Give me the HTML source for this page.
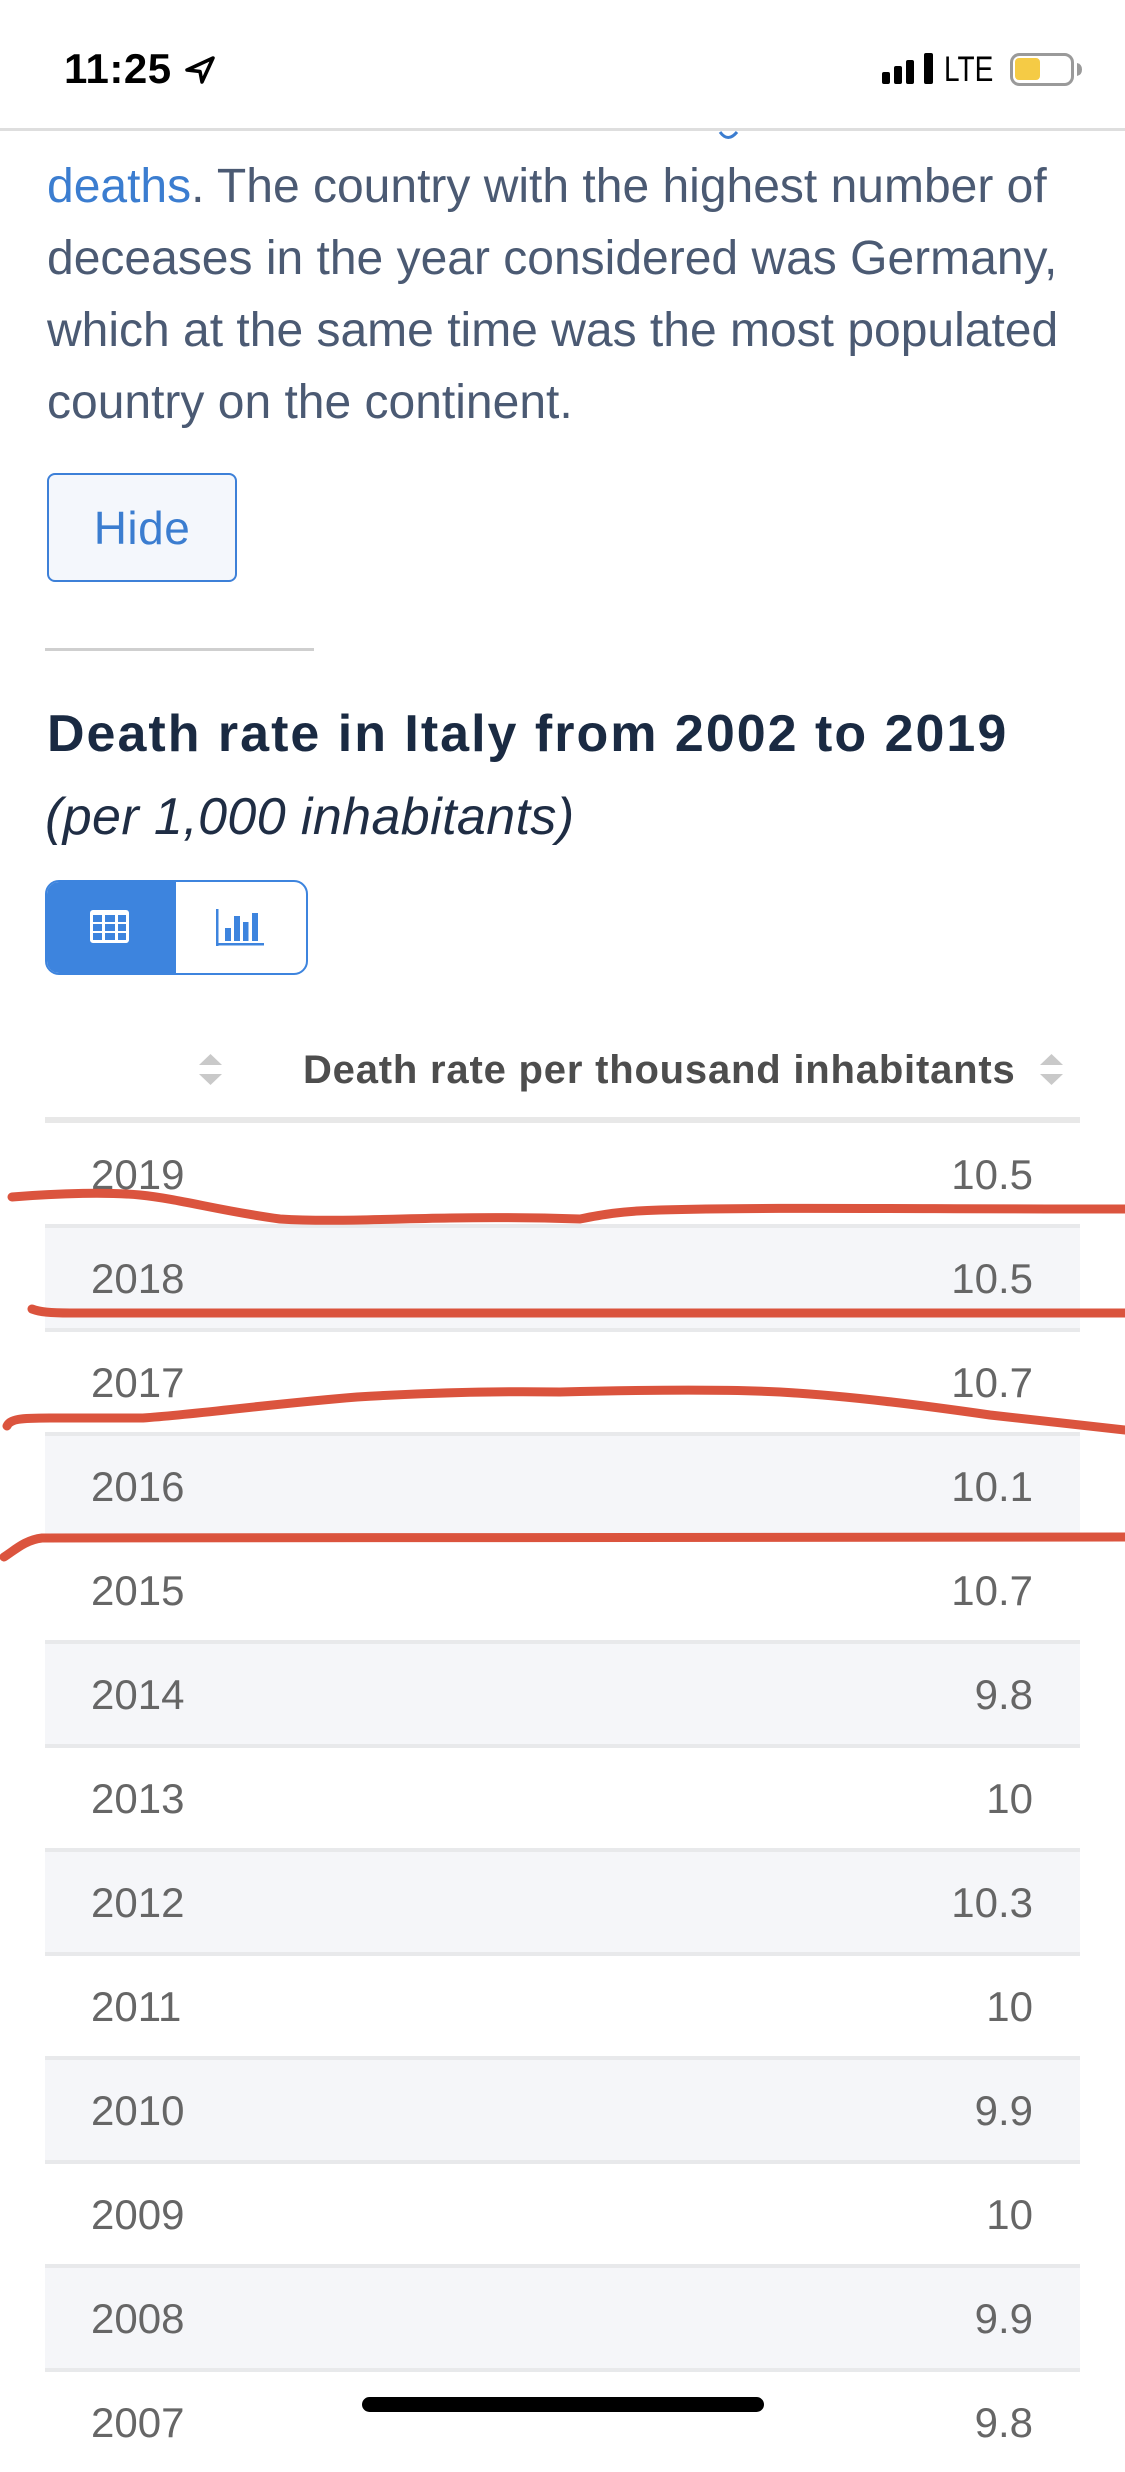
<!DOCTYPE html>
<html>
<head>
<meta charset="utf-8">
<style>
html,body{margin:0;padding:0;}
body{width:1125px;height:2436px;position:relative;overflow:hidden;background:#ffffff;font-family:"Liberation Sans",Arial,sans-serif;}
.a{position:absolute;white-space:nowrap;line-height:1;}
.p{font-size:48px;color:#4b5a73;left:47px;}
.p .lk{color:#3b7dd0;}
.row{position:absolute;left:45px;width:1035px;height:100px;}
.g{background:#f5f6f9;}
.bd{position:absolute;left:45px;width:1035px;height:4px;background:#e8e9eb;}
.yr{position:absolute;left:91px;font-size:42px;color:#666666;line-height:1;}
.vl{position:absolute;right:92px;font-size:42px;color:#666666;line-height:1;text-align:right;}
</style>
</head>
<body>

<!-- status bar -->
<div class="a" style="left:64px;top:48px;font-size:42px;font-weight:bold;color:#000;letter-spacing:0.5px;">11:25</div>
<svg style="position:absolute;left:0;top:0" width="1125" height="140">
  <polygon points="213,58 187,70 200,71.5 202,82" fill="none" stroke="#000" stroke-width="3.5" stroke-linejoin="round"/>
  <rect x="882" y="72" width="8" height="12" rx="2" fill="#000"/>
  <rect x="894" y="66" width="8" height="18" rx="2" fill="#000"/>
  <rect x="906" y="60" width="8" height="24" rx="2" fill="#000"/>
  <rect x="924" y="53" width="9" height="31" rx="2" fill="#000"/>
  <rect x="1011.5" y="54.5" width="61" height="30" rx="8" fill="none" stroke="#9a9a9a" stroke-width="3"/>
  <rect x="1015" y="58" width="25" height="22" rx="4" fill="#f5cb45"/>
  <path d="M1077,63 Q1082,64 1082,69.5 Q1082,75 1077,76 Z" fill="#9a9a9a"/>
  <rect x="0" y="128" width="1125" height="3" fill="#dedede"/>
  <path d="M720,132 Q728,143 737,132" fill="none" stroke="#3b7dd0" stroke-width="3"/>
</svg>
<div class="a" style="left:944px;top:52px;font-size:35px;color:#000;transform:scaleX(0.8);transform-origin:0 0;">LTE</div>

<!-- paragraph -->
<div class="a p" style="top:163px;"><span class="lk">deaths</span>. The country with the highest number of</div>
<div class="a p" style="top:235px;">deceases in the year considered was Germany,</div>
<div class="a p" style="top:307px;">which at the same time was the most populated</div>
<div class="a p" style="top:379px;">country on the continent.</div>

<!-- Hide button -->
<div style="position:absolute;left:47px;top:473px;width:186px;height:105px;border:2px solid #3d80d8;border-radius:8px;background:#f4f7fc;display:flex;align-items:center;justify-content:center;">
  <span style="font-size:46px;color:#3b7dd0;line-height:1;letter-spacing:0.5px;">Hide</span>
</div>

<!-- divider -->
<div style="position:absolute;left:45px;top:648px;width:269px;height:3px;background:#cfcfcf;"></div>

<!-- title -->
<div class="a" style="left:47px;top:708px;font-size:52px;font-weight:bold;color:#1a2a42;letter-spacing:2px;">Death rate in Italy from 2002 to 2019</div>
<div class="a" style="left:45px;top:791px;font-size:52px;font-style:italic;color:#1f2d44;letter-spacing:0.4px;">(per 1,000 inhabitants)</div>

<!-- toggle buttons -->
<div style="position:absolute;left:45px;top:880px;width:259px;height:91px;border:2px solid #3d84de;border-radius:14px;overflow:hidden;background:#fff;">
  <div style="position:absolute;left:0;top:0;width:129px;height:91px;background:#3d84de;"></div>
</div>
<svg style="position:absolute;left:0;top:0" width="400" height="1000">
  <rect x="90" y="910" width="39" height="33" rx="3" fill="#ffffff"/>
  <rect x="93" y="915" width="9" height="7" fill="#3d84de"/>
  <rect x="105" y="915" width="10" height="7" fill="#3d84de"/>
  <rect x="118" y="915" width="8" height="7" fill="#3d84de"/>
  <rect x="93" y="924" width="9" height="7" fill="#3d84de"/>
  <rect x="105" y="924" width="10" height="7" fill="#3d84de"/>
  <rect x="118" y="924" width="8" height="7" fill="#3d84de"/>
  <rect x="93" y="933" width="9" height="7" fill="#3d84de"/>
  <rect x="105" y="933" width="10" height="7" fill="#3d84de"/>
  <rect x="118" y="933" width="8" height="7" fill="#3d84de"/>
  <rect x="216" y="909" width="2.5" height="37" fill="#3d84de"/>
  <rect x="216" y="943" width="48" height="2.5" fill="#3d84de"/>
  <rect x="225" y="928" width="6" height="13" fill="#3d84de"/>
  <rect x="234" y="916" width="6" height="25" fill="#3d84de"/>
  <rect x="243" y="922" width="5.5" height="19" fill="#3d84de"/>
  <rect x="252" y="913" width="6" height="28" fill="#3d84de"/>
</svg>

<!-- table header -->
<svg style="position:absolute;left:0;top:1040px" width="1125" height="60">
  <polygon points="210.5,14 222,25 199,25" fill="#c9c9c9"/>
  <polygon points="199,34 222,34 210.5,45" fill="#c9c9c9"/>
  <polygon points="1051.5,14 1063,25 1040,25" fill="#c9c9c9"/>
  <polygon points="1040,34 1063,34 1051.5,45" fill="#c9c9c9"/>
</svg>
<div class="a" style="left:303px;top:1050px;font-size:40px;font-weight:bold;color:#4d4d4d;letter-spacing:0.8px;">Death rate per thousand inhabitants</div>
<div style="position:absolute;left:45px;top:1117px;width:1035px;height:6px;background:#e8e8e8;"></div>

<!-- rows -->
<div class="row" style="top:1123px;height:101px;"></div>
<div class="yr" style="top:1154px;">2019</div><div class="vl" style="top:1154px;">10.5</div>

<div class="bd" style="top:1224px;"></div>
<div class="row g" style="top:1228px;"></div>
<div class="yr" style="top:1258px;">2018</div><div class="vl" style="top:1258px;">10.5</div>

<div class="bd" style="top:1328px;"></div>
<div class="row" style="top:1332px;"></div>
<div class="yr" style="top:1362px;">2017</div><div class="vl" style="top:1362px;">10.7</div>

<div class="bd" style="top:1432px;"></div>
<div class="row g" style="top:1436px;"></div>
<div class="yr" style="top:1466px;">2016</div><div class="vl" style="top:1466px;">10.1</div>

<div class="bd" style="top:1536px;"></div>
<div class="row" style="top:1540px;"></div>
<div class="yr" style="top:1570px;">2015</div><div class="vl" style="top:1570px;">10.7</div>

<div class="bd" style="top:1640px;"></div>
<div class="row g" style="top:1644px;"></div>
<div class="yr" style="top:1674px;">2014</div><div class="vl" style="top:1674px;">9.8</div>

<div class="bd" style="top:1744px;"></div>
<div class="row" style="top:1748px;"></div>
<div class="yr" style="top:1778px;">2013</div><div class="vl" style="top:1778px;">10</div>

<div class="bd" style="top:1848px;"></div>
<div class="row g" style="top:1852px;"></div>
<div class="yr" style="top:1882px;">2012</div><div class="vl" style="top:1882px;">10.3</div>

<div class="bd" style="top:1952px;"></div>
<div class="row" style="top:1956px;"></div>
<div class="yr" style="top:1986px;">2011</div><div class="vl" style="top:1986px;">10</div>

<div class="bd" style="top:2056px;"></div>
<div class="row g" style="top:2060px;"></div>
<div class="yr" style="top:2090px;">2010</div><div class="vl" style="top:2090px;">9.9</div>

<div class="bd" style="top:2160px;"></div>
<div class="row" style="top:2164px;"></div>
<div class="yr" style="top:2194px;">2009</div><div class="vl" style="top:2194px;">10</div>

<div class="bd" style="top:2264px;"></div>
<div class="row g" style="top:2268px;"></div>
<div class="yr" style="top:2298px;">2008</div><div class="vl" style="top:2298px;">9.9</div>

<div class="bd" style="top:2368px;"></div>
<div class="row" style="top:2372px;"></div>
<div class="yr" style="top:2402px;">2007</div><div class="vl" style="top:2402px;">9.8</div>

<!-- red hand-drawn lines -->
<svg style="position:absolute;left:0;top:0" width="1125" height="2436">
  <g fill="none" stroke="#d8472f" stroke-width="9" stroke-linecap="round" stroke-linejoin="round" opacity="0.93">
    <path d="M12,1197 C60,1193 110,1192 140,1195 C180,1199 220,1211 280,1219 C330,1222 380,1219 450,1218 C510,1217 550,1218 580,1219 C600,1215 620,1211 660,1210 C760,1207 900,1209 1125,1209"/>
    <path d="M32,1309 C40,1312 50,1313 70,1313 L1125,1313"/>
    <path d="M7,1426 C10,1419 20,1418 50,1418 L143,1418 C200,1414 260,1405 357,1397 C440,1392 500,1391 560,1392 C640,1390 720,1389 780,1392 C850,1396 920,1405 990,1415 C1050,1422 1090,1426 1125,1430"/>
    <path d="M4,1557 C15,1550 25,1540 42,1538 L1125,1537"/>
  </g>
</svg>

<!-- home indicator -->
<div style="position:absolute;left:362px;top:2397px;width:402px;height:15px;border-radius:8px;background:#000;"></div>

</body>
</html>
